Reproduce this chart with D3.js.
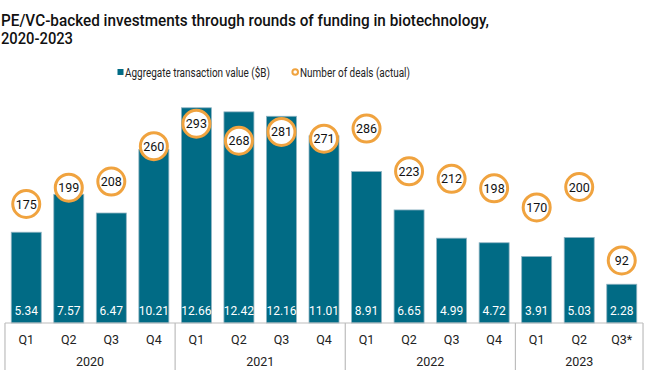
<!DOCTYPE html>
<html>
<head>
<meta charset="utf-8">
<script src="https://cdn.jsdelivr.net/npm/d3@7/dist/d3.min.js"></script>
<style>
  html, body { margin: 0; padding: 0; background: #fff; }
  svg { display: block; font-family: Roboto, "Noto Sans", sans-serif; }
</style>
</head>
<body>
<svg id="chart" width="649" height="379"></svg>
<script>
const quarters = ["Q1","Q2","Q3","Q4","Q1","Q2","Q3","Q4","Q1","Q2","Q3","Q4","Q1","Q2","Q3*"];
const years = ["2020","2020","2020","2020","2021","2021","2021","2021","2022","2022","2022","2022","2023","2023","2023"];
const yearLabels = ["2020","2021","2022","2023"];
const values = [5.34,7.57,6.47,10.21,12.66,12.42,12.16,11.01,8.91,6.65,4.99,4.72,3.91,5.03,2.28];
const deals = [175,199,208,260,293,268,281,271,286,223,212,198,170,200,92];

const svg = d3.select("#chart");
const ids = d3.range(values.length);

const x = d3.scaleBand().domain(ids).range([5, 643]).paddingInner(0.295).paddingOuter(0.147);
const y = d3.scaleLinear().domain([0, 14]).range([323, 85]);
const y2 = d3.scaleLinear().domain([0, 350]).range([323, 85]);

// Title
const title = svg.append("g").attr("fill", "#111").attr("font-weight", 500).attr("font-size", 17);
title.append("text").attr("x", 1).attr("y", 25.5)
  .attr("textLength", 488).attr("lengthAdjust", "spacingAndGlyphs")
  .text("PE/VC-backed investments through rounds of funding in biotechnology,");
title.append("text").attr("x", 1).attr("y", 44)
  .attr("textLength", 72).attr("lengthAdjust", "spacingAndGlyphs")
  .text("2020-2023");

// Legend
const leg = svg.append("g").attr("font-size", 12).attr("fill", "#222");
leg.append("rect").attr("x", 117.5).attr("y", 69).attr("width", 6).attr("height", 6).attr("fill", "#016b85");
leg.append("text").attr("x", 125).attr("y", 76.5).attr("textLength", 145).attr("lengthAdjust", "spacingAndGlyphs")
  .text("Aggregate transaction value ($B)");
leg.append("circle").attr("cx", 295.2).attr("cy", 72).attr("r", 2.8).attr("fill", "#fff")
  .attr("stroke", "#f0a33f").attr("stroke-width", 2);
leg.append("text").attr("x", 300).attr("y", 76.5).attr("textLength", 110).attr("lengthAdjust", "spacingAndGlyphs")
  .text("Number of deals (actual)");

// Bars
svg.append("g").selectAll("rect").data(ids).join("rect")
  .attr("x", i => x(i)).attr("width", x.bandwidth())
  .attr("y", i => y(values[i])).attr("height", i => y(0) - y(values[i]))
  .attr("fill", "#016b85").attr("stroke", "#8fb3c2").attr("stroke-width", 0.8);

// Bar value labels
svg.append("g").attr("font-size", 12).attr("fill", "#fff").attr("text-anchor", "middle")
  .selectAll("text").data(ids).join("text")
  .attr("x", i => x(i) + x.bandwidth() / 2).attr("y", 314.5)
  .text(i => values[i].toFixed(2));

// Deal circles
const dg = svg.append("g");
dg.selectAll("circle").data(ids).join("circle")
  .attr("cx", i => x(i) + x.bandwidth() / 2).attr("cy", i => y2(deals[i]))
  .attr("r", 13.5).attr("fill", "#fff").attr("stroke", "#f0a33f").attr("stroke-width", 3);
dg.selectAll("text").data(ids).join("text")
  .attr("x", i => x(i) + x.bandwidth() / 2).attr("y", i => y2(deals[i]) + 4.5)
  .attr("text-anchor", "middle").attr("font-size", 12.5).attr("fill", "#111")
  .text(i => deals[i]);

// Axis
const ax = svg.append("g").attr("stroke", "#bdbdbd").attr("stroke-width", 1.2);
ax.append("line").attr("x1", 5).attr("x2", 643).attr("y1", 323).attr("y2", 323);
const step = x.step();
const groupBounds = yearLabels.map(yr => {
  const idx = ids.filter(i => years[i] === yr);
  return [x(idx[0]) - x.paddingInner() * step / 2, x(idx[idx.length - 1]) + x.bandwidth() + x.paddingInner() * step / 2];
});
const seps = [groupBounds[0][0]].concat(groupBounds.map(b => b[1]));
ax.selectAll("line.sep").data(seps).join("line").attr("class", "sep")
  .attr("x1", d => d).attr("x2", d => d).attr("y1", 323).attr("y2", 370);

svg.append("g").attr("font-size", 12.5).attr("fill", "#222").attr("text-anchor", "middle")
  .selectAll("text").data(ids).join("text")
  .attr("x", i => x(i) + x.bandwidth() / 2).attr("y", 344)
  .text(i => quarters[i]);

svg.append("g").attr("font-size", 12.5).attr("fill", "#222").attr("text-anchor", "middle")
  .selectAll("text").data(yearLabels).join("text")
  .attr("x", (d, k) => (groupBounds[k][0] + groupBounds[k][1]) / 2).attr("y", 366)
  .text(d => d);
</script>
</body>
</html>
